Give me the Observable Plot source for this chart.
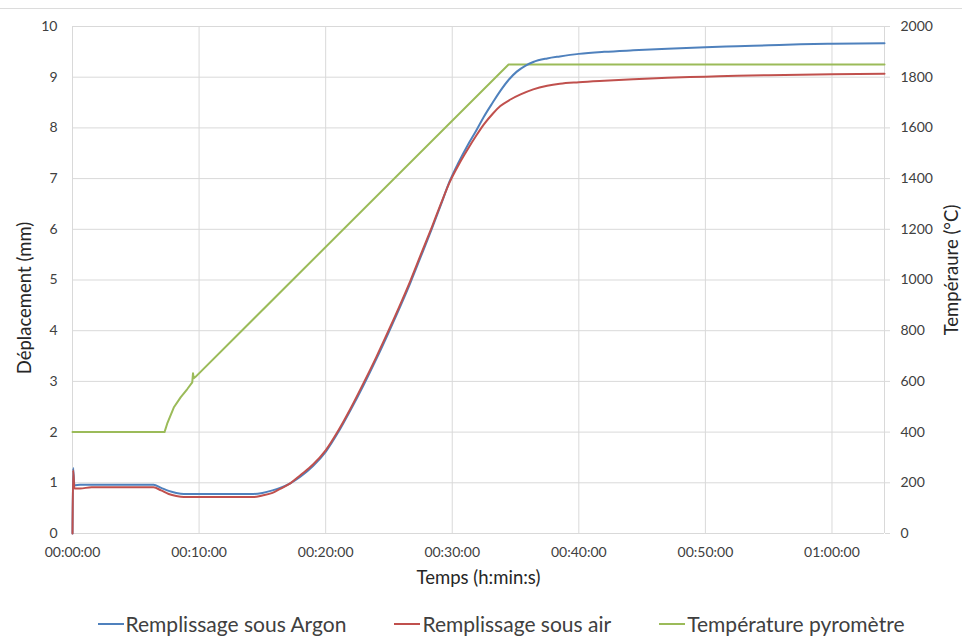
<!DOCTYPE html>
<html>
<head>
<meta charset="utf-8">
<script src="https://cdn.jsdelivr.net/npm/d3@7"></script>
<script src="https://cdn.jsdelivr.net/npm/@observablehq/plot@0.6"></script>
<style>
  body { margin: 0; background: #fff; font-family: Lato, "Open Sans", sans-serif; color: #404040; }
  #wrap { position: relative; width: 962px; height: 641px; }
  #topline { position: absolute; top: 8px; left: 0; width: 962px; height: 1px; background: #dcdcdc; }
  #legend { display: flex; justify-content: center; align-items: center; height: 41px; font-size: 21px; gap: 48px; padding-left: 40px; margin-top: 3px; }
  .item { display: flex; align-items: center; }
  .sw { display: inline-block; width: 26px; height: 2px; margin-right: 2px; }
</style>
</head>
<body>
<div id="wrap"><div id="topline"></div><div id="chart"></div><div id="legend"></div></div>
<script>
// Time in minutes
const argonT = [0, 0.05, 0.15, 0.6, 6.4, 7.0, 7.6, 8.2, 8.8, 10, 12, 14.3, 15.0, 15.8, 16.4, 17.2, 18, 19, 20, 21, 22, 23, 24, 25, 26, 26.7, 27.5, 28.4, 29.1, 29.8, 30.5, 31.2, 31.9, 32.5, 33.2, 33.8, 34.5, 35.1, 35.8, 36.4, 37.5, 38.5, 40, 42, 44.3, 47, 50, 52.5, 55, 57.5, 60, 64.15];
const argonV = [0, 1.29, 0.95, 0.96, 0.96, 0.90, 0.84, 0.80, 0.78, 0.78, 0.78, 0.78, 0.80, 0.85, 0.90, 0.99, 1.12, 1.33, 1.61, 2.00, 2.45, 2.93, 3.44, 3.98, 4.54, 4.95, 5.45, 6.02, 6.48, 6.95, 7.32, 7.65, 7.95, 8.22, 8.50, 8.73, 8.96, 9.11, 9.23, 9.30, 9.37, 9.41, 9.46, 9.50, 9.53, 9.56, 9.59, 9.61, 9.63, 9.65, 9.66, 9.67];

const airT = [0, 0.05, 0.15, 0.6, 1.5, 6.4, 7.0, 7.6, 8.2, 8.8, 10, 12, 14.3, 15.0, 15.8, 16.4, 17.2, 18, 19, 20, 21, 22, 23, 24, 25, 26, 26.7, 27.5, 28.4, 29.1, 29.8, 30.5, 31.2, 31.9, 32.5, 33.2, 33.8, 34.6, 35.4, 36.4, 37.5, 38.5, 40, 42, 44.3, 47, 50, 52.5, 55, 57.5, 60, 64.15];
const airV = [0, 1.25, 0.89, 0.89, 0.91, 0.91, 0.85, 0.78, 0.74, 0.72, 0.72, 0.72, 0.72, 0.75, 0.80, 0.88, 0.99, 1.15, 1.36, 1.64, 2.03, 2.48, 2.97, 3.48, 4.02, 4.58, 4.99, 5.49, 6.05, 6.50, 6.93, 7.27, 7.57, 7.85, 8.07, 8.28, 8.43, 8.56, 8.66, 8.76, 8.83, 8.87, 8.90, 8.93, 8.96, 8.99, 9.01, 9.03, 9.04, 9.05, 9.06, 9.07];

const tempT = [0, 7.27, 7.48, 8.0, 8.54, 9.07, 9.46, 9.52, 9.58, 9.72, 34.45, 64.15];
const tempV = [400, 400, 433, 497, 537, 570, 596, 632, 612, 618, 1850, 1850];

const xTicks = [0, 10, 20, 30, 40, 50, 60];
const xDomain = [0, 64.15];
const yTicks = [0, 1, 2, 3, 4, 5, 6, 7, 8, 9, 10];
const tempPerMm = 200; // right axis 0–2000 °C aligned with left axis 0–10 mm

const seriesNames = ["Remplissage sous Argon", "Remplissage sous air", "Température pyromètre"];
const seriesColors = ["#4f81bd", "#c0504d", "#9bbb59"];

const argon = argonT.map((t, i) => ({t, v: argonV[i]}));
const air = airT.map((t, i) => ({t, v: airV[i]}));
const temp = tempT.map((t, i) => ({t, v: tempV[i]}));

const fmt = m => {
  const h = Math.floor(m / 60), mm = Math.floor(m % 60), s = Math.round((m * 60) % 60);
  return [h, mm, s].map(n => String(n).padStart(2, "0")).join(":");
};

const grid = "#d9d9d9";
const chart = Plot.plot({
  width: 962,
  height: 600,
  marginLeft: 72,
  marginRight: 78,
  marginTop: 26,
  marginBottom: 67,
  style: {fontFamily: "Lato, 'Open Sans', sans-serif", fontSize: "14px", color: "#404040", background: "white"},
  x: {domain: xDomain},
  y: {domain: [0, 10]},
  marks: [
    Plot.gridY(yTicks, {stroke: grid, strokeOpacity: 1}),
    Plot.gridX(xTicks, {stroke: grid, strokeOpacity: 1}),
    Plot.ruleX(xDomain, {stroke: grid}),
    Plot.ruleY([0], {stroke: grid}),
    Plot.axisX(xTicks, {tickSize: 0, tickPadding: 14, tickFormat: fmt, label: null}),
    Plot.axisY(yTicks, {anchor: "left", tickSize: 0, tickPadding: 15, tickFormat: d => String(d), label: null}),
    Plot.axisY(yTicks, {anchor: "right", tickSize: 5, tickPadding: 11, stroke: grid, fill: "#404040", tickFormat: d => String(d * tempPerMm), label: null}),
    Plot.text(["Déplacement (mm)"], {text: d => d, frameAnchor: "left", textAnchor: "middle", rotate: -90, dx: -47, dy: 18, fontSize: 18.5, fill: "#262626"}),
    Plot.text(["Tempéraure (°C)"], {text: d => d, frameAnchor: "right", textAnchor: "middle", rotate: -90, dx: 68, dy: -10, fontSize: 18.5, fill: "#262626"}),
    Plot.text(["Temps (h:min:s)"], {text: d => d, frameAnchor: "bottom", dy: 50, fontSize: 18.5, fill: "#262626"}),
    Plot.line(temp, {x: "t", y: d => d.v / tempPerMm, stroke: seriesColors[2], strokeWidth: 2}),
    Plot.line(argon, {x: "t", y: "v", stroke: seriesColors[0], strokeWidth: 2, curve: "monotone-x"}),
    Plot.line(air, {x: "t", y: "v", stroke: seriesColors[1], strokeWidth: 2, curve: "monotone-x"})
  ]
});
document.getElementById("chart").appendChild(chart);

const legend = document.getElementById("legend");
seriesNames.forEach((name, i) => {
  const item = document.createElement("div");
  item.className = "item";
  item.innerHTML = `<span class="sw" style="background:${seriesColors[i]}"></span><span>${name}</span>`;
  legend.appendChild(item);
});
</script>
</body>
</html>
